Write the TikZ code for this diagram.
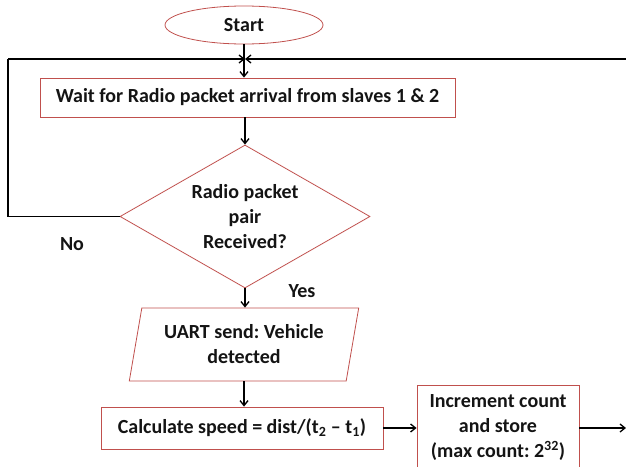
\documentclass[tikz,border=0pt]{standalone}
\usepackage{fontspec}
\setmainfont{Carlito}
\usepackage{tikz}
\usetikzlibrary{arrows.meta,shapes.geometric}
\definecolor{edge}{HTML}{C0504D}
\definecolor{ink}{HTML}{141414}
\frenchspacing

\begin{document}
\begin{tikzpicture}[x=1pt,y=-1pt,
  every node/.style={text=ink,font=\bfseries\fontsize{20}{25}\selectfont,align=center},
  blk/.style={draw=edge,line width=0.8pt,inner sep=0pt},
  flow/.style={draw=black,line width=1.3pt,-{Straight Barb[length=5pt,width=8pt]}},
  wire/.style={draw=black,line width=1.3pt}]
  \clip (0,0) rectangle (626,466);
  \node[blk,ellipse,minimum width=158pt,minimum height=38pt] (start) at (244,25) {Start};
  \node[blk,rectangle,minimum width=415pt,minimum height=39pt] (wait) at (247.5,97.5)
    {Wait for Radio packet arrival from slaves 1 \& 2};
  \node[blk,diamond,aspect=1.75,minimum width=250pt,minimum height=143pt] (check) at (245,216.5)
    {Radio packet\\pair\\Received?};
  \node[blk,trapezium,trapezium left angle=76,trapezium right angle=104,
    trapezium stretches=true,minimum width=230pt,minimum height=73pt] (uart) at (244,344.5)
    {UART send: Vehicle\\detected};
  \node[blk,rectangle,minimum width=282pt,minimum height=42pt] (speed) at (242,428)
    {Calculate speed = dist/(t\textsubscript{2} – t\textsubscript{1})};
  \node[blk,rectangle,minimum width=162pt,minimum height=86pt] (count) at (498,428)
    {Increment count\\and store\\(max count: 2\textsuperscript{32})};
  \coordinate (join) at (245,59);
  \coordinate (back) at (626,59);
  \coordinate (out) at (626,428);
  \draw[flow] (start.south) -- (start.south |- wait.north);
  \draw[flow] (8,59) -- (join);
  \draw[wire] (check.west) -| (8,59);
  \draw[flow] (back) -- (join);
  \draw[flow] (wait.south -| check.north) -- (check.north);
  \draw[flow] (check.south) -- (uart.north -| check.south);
  \draw[flow] (uart.south) -- (speed.north -| uart.south);
  \draw[flow] (speed.east) -- (count.west);
  \draw[flow] (count.east) -- (out);
  \node (no) at (72,244) {No};
  \node (yes) at (302,291) {Yes};
\end{tikzpicture}
\end{document}
